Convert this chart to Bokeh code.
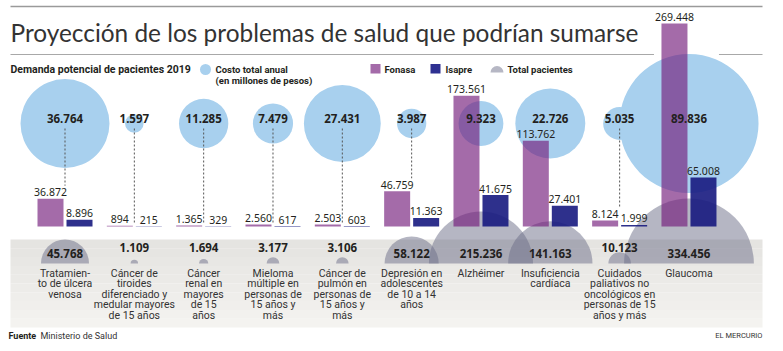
import numpy as np
from bokeh.plotting import figure
from bokeh.models import Range1d
from bokeh.core.properties import value
from bokeh.embed import file_html
from bokeh.resources import INLINE

# ---------------- data ----------------
categorias = [
    "Tratamien-\nto de úlcera\nvenosa",
    "Cáncer de\ntiroides\ndiferenciado y\nmedular mayores\nde 15 años",
    "Cáncer\nrenal en\nmayores\nde 15\naños",
    "Mieloma\nmúltiple en\npersonas de\n15 años y\nmás",
    "Cáncer de\npulmón en\npersonas de\n15 años y\nmás",
    "Depresión en\nadolescentes\nde 10 a 14\naños",
    "Alzhéimer",
    "Insuficiencia\ncardíaca",
    "Cuidados\npaliativos no\noncológicos en\npersonas de 15\naños y más",
    "Glaucoma",
]
fonasa = [36872, 894, 1365, 2560, 2503, 46759, 173561, 113762, 8124, 269448]
isapre = [8896, 215, 329, 617, 603, 11363, 41675, 27401, 1999, 65008]
costo_total = [36764, 1597, 11285, 7479, 27431, 3987, 9323, 22726, 5035, 89836]
total_pacientes = [45768, 1109, 1694, 3177, 3106, 58122, 215236, 141163, 10123, 334456]

titulo = "Proyección de los problemas de salud que podrían sumarse"
subtitulo = "Demanda potencial de pacientes 2019"

# ---------------- layout (pixels) ----------------
W, H = 783, 351
X0, STEP = 64.5, 69.33          # pixel centre of first category, spacing
BASE = 226.0                     # bar baseline (pixel row)
K = 203.0 / 269448               # pixels per patient
CIRC_Y = 123.0                   # centre row of cost circles
R_COST = 44.5 / np.sqrt(36764)   # px radius per sqrt(million pesos)
GRAY_Y = 263.0                   # base row of patient half circles
R_TOT = 24.0 / np.sqrt(45768)    # px radius per sqrt(patient)
BAR_W = 26.0 / STEP
BAR_OFF = 14.5 / STEP


def X(px):
    return (px - X0) / STEP


def Y(py):
    return (BASE - py) / K


def fmt(v):
    return f"{v:,}".replace(",", ".")


p = figure(width=W, height=H, x_range=Range1d(X(0), X(W)), y_range=Range1d(Y(H), Y(0)),
           output_backend="svg", toolbar_location=None, min_border=0,
           x_axis_type=None, y_axis_type=None)
p.grid.visible = False
p.outline_line_color = None
p.background_fill_color = "white"
p.border_fill_color = "white"

FONT = value("Noto Sans")
COND = value("Roboto")
TITLEF = value("Lato")
DARK = "#231f20"

idx = np.arange(len(categorias), dtype=float)

# ---------- bottom band (gradient) ----------
nb = 10
b_top, b_bot = 239.0, 327.0
c0 = np.array([229, 228, 225]); c1 = np.array([244, 243, 240])
for k in range(nb):
    t = k / (nb - 1)
    c = (c0 + (c1 - c0) * t).astype(int)
    p.quad(left=[X(10)], right=[X(762)],
           top=[Y(b_top + k * (b_bot - b_top) / nb)],
           bottom=[Y(b_top + (k + 1) * (b_bot - b_top) / nb)],
           fill_color="#%02x%02x%02x" % tuple(c), line_color=None)

# ---------- rules ----------
p.segment(x0=[X(10)], y0=[Y(6)], x1=[X(762)], y1=[Y(6)], line_color="#9a9a9a", line_width=1.6)
gx = X0 + 9 * STEP
p.segment(x0=[X(10), X(gx + 30)], y0=[Y(54), Y(54)], x1=[X(gx - 35), X(762)], y1=[Y(54), Y(54)],
          line_color="#a8a8a8", line_width=1.2)

# ---------- cost circles ----------
r_cost = R_COST * np.sqrt(np.array(costo_total, dtype=float))
p.scatter(x=idx, y=[Y(CIRC_Y)] * len(idx), size=2 * r_cost, marker="circle",
          fill_color="#a8d0ee", line_color=None)

# ---------- patient half circles ----------
r_tot = R_TOT * np.sqrt(np.array(total_pacientes, dtype=float))
p.wedge(x=idx, y=[Y(GRAY_Y)] * len(idx), radius=r_tot, radius_units="screen",
        start_angle=0, end_angle=np.pi, fill_color="#6c6e88", fill_alpha=0.5, line_color=None)

# ---------- bars ----------
p.vbar(x=idx - BAR_OFF, width=BAR_W, top=fonasa, bottom=0,
       fill_color="#731c7b", fill_alpha=0.65, line_color=None)
p.vbar(x=idx + BAR_OFF, width=BAR_W, top=isapre, bottom=0,
       fill_color="#17197f", fill_alpha=0.9, line_color=None)

# ---------- dotted leaders ----------
dx0, dy0, dy1 = [], [], []
for i in range(len(categorias)):
    circ_bottom = CIRC_Y + r_cost[i]
    top_px = BASE - max(fonasa[i], isapre[i]) * K
    end_px = top_px - 13 if (BASE - top_px) > 5 else 222
    if circ_bottom < end_px:
        dx0.append(idx[i]); dy0.append(Y(CIRC_Y + 5)); dy1.append(Y(end_px))
p.segment(x0=dx0, y0=dy0, x1=dx0, y1=dy1, line_color="#555555", line_width=1, line_dash="2 2")

# ---------- bar value labels ----------
p.text(x=idx - BAR_OFF, y=np.array(fonasa) + 6.5 / K, text=[fmt(v) for v in fonasa],
       text_font=FONT, text_font_size="10.5px", text_color=DARK, text_align="center",
       text_baseline="middle")
p.text(x=idx + BAR_OFF, y=np.array(isapre) + 6.5 / K, text=[fmt(v) for v in isapre],
       text_font=FONT, text_font_size="10.5px", text_color=DARK, text_align="center",
       text_baseline="middle")

# ---------- cost labels ----------
p.text(x=idx, y=[Y(118)] * len(idx), text=[fmt(v) for v in costo_total],
       text_font=FONT, text_font_size="11.5px", text_font_style="bold", text_color=DARK,
       text_align="center", text_baseline="middle")

# ---------- patient labels ----------
ty = [Y(253) if r > 20 else Y(247) for r in r_tot]
p.text(x=idx, y=ty, text=[fmt(v) for v in total_pacientes],
       text_font=FONT, text_font_size="11.5px", text_font_style="bold", text_color=DARK,
       text_align="center", text_baseline="middle")

# ---------- category labels ----------
lx, ly, lt = [], [], []
for i, c in enumerate(categorias):
    for j, line in enumerate(c.split("\n")):
        lx.append(idx[i]); ly.append(Y(273 + j * 10.4)); lt.append(line)
p.text(x=lx, y=ly, text=lt, text_font=COND, text_font_size="10.5px", text_color="#333333",
       text_align="center", text_baseline="middle")

# ---------- title / subtitle ----------
p.text(x=[X(10)], y=[Y(32)], text=[titulo], text_font=TITLEF, text_font_size="24.4px",
       text_color="#333333", text_align="left", text_baseline="middle")
p.text(x=[X(10)], y=[Y(69)], text=[subtitulo], text_font=COND, text_font_size="10.5px",
       text_font_style="bold", text_color=DARK, text_align="left", text_baseline="middle")

# ---------- legend ----------
p.scatter(x=[X(205)], y=[Y(69)], size=11, marker="circle", fill_color="#a8d0ee", line_color=None)
p.text(x=[X(215), X(215)], y=[Y(68.5), Y(79.5)], text=["Costo total anual", "(en millones de pesos)"],
       text_font=COND, text_font_size="9.5px", text_font_style="bold", text_color=DARK,
       text_align="left", text_baseline="middle")
p.quad(left=[X(370)], right=[X(380)], top=[Y(63.5)], bottom=[Y(73)], fill_color="#a46ba9", line_color=None)
p.quad(left=[X(430)], right=[X(440)], top=[Y(63.5)], bottom=[Y(73)], fill_color="#2e3091", line_color=None)
p.wedge(x=[X(496.5)], y=[Y(72)], radius=6.5, radius_units="screen", start_angle=0, end_angle=np.pi,
        fill_color="#b6b7c4", line_color=None)
p.text(x=[X(384), X(445), X(507)], y=[Y(68.5)] * 3, text=["Fonasa", "Isapre", "Total pacientes"],
       text_font=COND, text_font_size="9.5px", text_font_style="bold", text_color=DARK,
       text_align="left", text_baseline="middle")

# ---------- footer ----------
p.text(x=[X(8)], y=[Y(335)], text=["Fuente"], text_font=COND, text_font_size="9px",
       text_font_style="bold", text_color=DARK, text_align="left", text_baseline="middle")
p.text(x=[X(40)], y=[Y(335)], text=["Ministerio de Salud"], text_font=COND, text_font_size="9px",
       text_color="#333333", text_align="left", text_baseline="middle")
p.text(x=[X(762)], y=[Y(335)], text=["EL MERCURIO"], text_font=COND, text_font_size="7.5px",
       text_color="#333333", text_align="right", text_baseline="middle")

open("out.html", "w").write(file_html(p, INLINE))
